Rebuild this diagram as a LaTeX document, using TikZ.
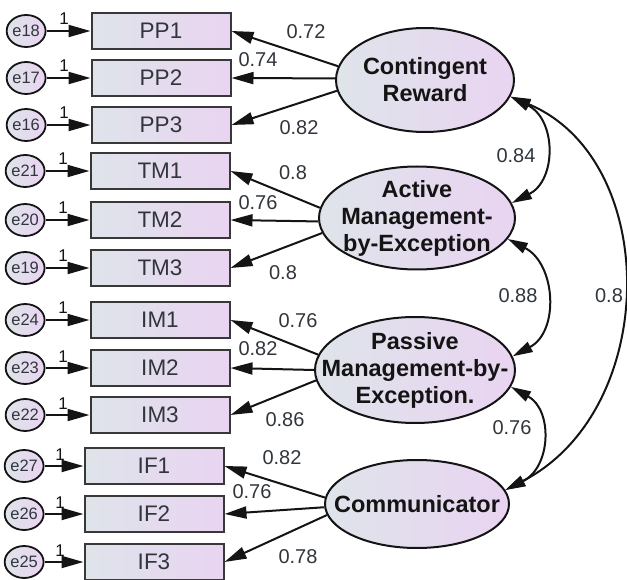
\documentclass[tikz,border=0pt]{standalone}
\usepackage{fontspec}
\setmainfont{Liberation Sans}
\usepackage{xcolor}
\usepackage{tikz}
\usetikzlibrary{arrows.meta,positioning,shapes.geometric}
\definecolor{ink}{HTML}{141414}
\definecolor{txt}{HTML}{30363C}
\definecolor{frame}{HTML}{383838}
\definecolor{coolfill}{HTML}{DFE4EA}
\definecolor{warmfill}{HTML}{E9D4F1}

\begin{document}
\begin{tikzpicture}[
  x=1pt, y=-1pt,
  item/.style={draw=frame, line width=2pt, left color=coolfill, right color=warmfill, minimum width=139pt, minimum height=36pt, inner sep=0pt, text=txt, font=\fontsize{22.5}{26}\selectfont},
  err/.style={ellipse, draw=ink, line width=1.8pt, left color=coolfill, right color=warmfill, minimum width=36pt, minimum height=32pt, inner sep=0pt, text=txt, font=\fontsize{16.5}{18}\selectfont},
  factor/.style={ellipse, draw=ink, line width=2pt, left color=coolfill, right color=warmfill, inner sep=0pt},
  factortext/.style={align=center, inner sep=0pt, text=ink, font=\bfseries\fontsize{23.5}{27}\selectfont},
  coef/.style={inner sep=0pt, text=txt, font=\fontsize{20}{22}\selectfont},
  one/.style={inner sep=0pt, text=ink, font=\fontsize{17}{18}\selectfont},
  arr/.style={-{Triangle[length=22pt,width=12pt]}, line width=2pt, ink},
  cov/.style={{Triangle[length=20pt,width=11pt]}-{Triangle[length=20pt,width=11pt]}, line width=2pt, ink}
]
  \useasboundingbox (0,0) rectangle (627,580);

  % latent factors
  \node[factor, minimum width=178pt, minimum height=104pt] (cr) at (425,80) {};
  \node[factor, minimum width=196pt, minimum height=103pt] (ame) at (417,218) {};
  \node[factor, minimum width=200pt, minimum height=106pt] (pme) at (415,370) {};
  \node[factor, minimum width=184pt, minimum height=88pt] (com) at (417,504) {};
  \node[factortext] (crt) at (cr) {Contingent\\Reward};
  \node[factortext] (amet) at (ame) {Active\\Management-\\by-Exception};
  \node[factortext] (pmet) at (pme) {Passive\\Management-by-\\Exception.};
  \node[factortext] (comt) at (com) {Communicator};

  % observed items
  \node[item] (pp1) at (161,31) {PP1};
  \node[item] (pp2) at (161,78) {PP2};
  \node[item] (pp3) at (161,125) {PP3};
  \node[item] (tm1) at (160,171) {TM1};
  \node[item] (tm2) at (160,220) {TM2};
  \node[item] (tm3) at (160,268) {TM3};
  \node[item] (im1) at (160,320) {IM1};
  \node[item] (im2) at (160,368) {IM2};
  \node[item] (im3) at (160,415) {IM3};
  \node[item] (if1) at (154,466) {IF1};
  \node[item] (if2) at (154,514) {IF2};
  \node[item] (if3) at (154,562) {IF3};

  % error terms
  \node[err, left=44pt of pp1] (e18) {e18};
  \node[err, left=44pt of pp2] (e17) {e17};
  \node[err, left=44pt of pp3] (e16) {e16};
  \node[err, left=44pt of tm1] (e21) {e21};
  \node[err, left=44pt of tm2] (e20) {e20};
  \node[err, left=44pt of tm3] (e19) {e19};
  \node[err, left=44pt of im1] (e24) {e24};
  \node[err, left=44pt of im2] (e23) {e23};
  \node[err, left=44pt of im3] (e22) {e22};
  \node[err, left=39pt of if1] (e27) {e27};
  \node[err, left=39pt of if2] (e26) {e26};
  \node[err, left=39pt of if3] (e25) {e25};

  \draw[arr] (e18) -- node[one, above=5pt, pos=0.4] (w18) {1} (pp1);
  \draw[arr] (e17) -- node[one, above=5pt, pos=0.4] (w17) {1} (pp2);
  \draw[arr] (e16) -- node[one, above=5pt, pos=0.4] (w16) {1} (pp3);
  \draw[arr] (e21) -- node[one, above=5pt, pos=0.4] (w21) {1} (tm1);
  \draw[arr] (e20) -- node[one, above=5pt, pos=0.4] (w20) {1} (tm2);
  \draw[arr] (e19) -- node[one, above=5pt, pos=0.4] (w19) {1} (tm3);
  \draw[arr] (e24) -- node[one, above=5pt, pos=0.4] (w24) {1} (im1);
  \draw[arr] (e23) -- node[one, above=5pt, pos=0.4] (w23) {1} (im2);
  \draw[arr] (e22) -- node[one, above=5pt, pos=0.4] (w22) {1} (im3);
  \draw[arr] (e27) -- node[one, above=5pt, pos=0.4] (w27) {1} (if1);
  \draw[arr] (e26) -- node[one, above=5pt, pos=0.4] (w26) {1} (if2);
  \draw[arr] (e25) -- node[one, above=5pt, pos=0.4] (w25) {1} (if3);

  % loadings
  \draw[arr] (cr.171) -- (pp1.east);
  \draw[arr] (cr.179) -- (pp2.east);
  \draw[arr] (cr.187) -- (pp3.east);
  \draw[arr] (ame.174) -- (tm1.east);
  \draw[arr] (ame.182) -- (tm2.east);
  \draw[arr] (ame.189) -- (tm3.east);
  \draw[arr] (pme.171) -- (im1.east);
  \draw[arr] (pme.180) -- (im2.east);
  \draw[arr] (pme.186) -- (im3.east);
  \draw[arr] (com.176) -- (if1.east);
  \draw[arr] (com.182) -- (if2.east);
  \draw[arr] (com.187) -- (if3.east);

  \node[coef] (c1) at (306,32) {0.72};
  \node[coef] (c2) at (258,60) {0.74};
  \node[coef] (c3) at (299,128) {0.82};
  \node[coef] (c4) at (293,173) {0.8};
  \node[coef] (c5) at (258,203) {0.76};
  \node[coef] (c6) at (283,273) {0.8};
  \node[coef] (c7) at (298,321) {0.76};
  \node[coef] (c8) at (258,349) {0.82};
  \node[coef] (c9) at (285,420) {0.86};
  \node[coef] (c10) at (282,458) {0.82};
  \node[coef] (c11) at (252,492) {0.76};
  \node[coef] (c12) at (298,557) {0.78};

  % correlations
  \draw[cov] (cr.349) .. controls +(46,23) and +(45,-23) .. (ame.9);
  \draw[cov] (ame.347) .. controls +(48,25) and +(47,-25) .. (pme.8);
  \draw[cov] (pme.350) .. controls +(42,23) and +(46,-23) .. (com.9);
  \draw[cov] (cr.349) .. controls +(151,63) and +(155,-80) .. (com.9);

  \node[coef] (r1) at (516,156) {0.84};
  \node[coef] (r2) at (518,296) {0.88};
  \node[coef] (r3) at (512,428) {0.76};
  \node[coef] (r4) at (609,296) {0.8};
\end{tikzpicture}
\end{document}
